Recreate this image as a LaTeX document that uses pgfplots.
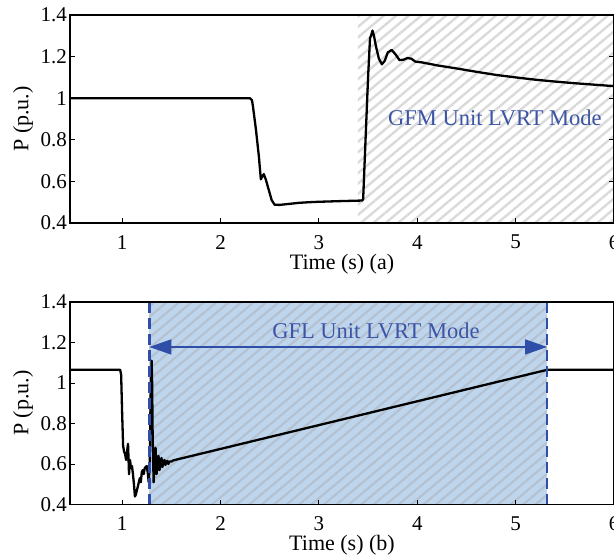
\documentclass[border=0pt]{standalone}
\usepackage{fontspec}
\setmainfont{Liberation Serif}
\usepackage{pgfplots}
\pgfplotsset{compat=1.18}
\usetikzlibrary{patterns.meta,arrows.meta}

\definecolor{lvrtblue}{RGB}{47,78,168}
\definecolor{lvrttext}{RGB}{60,84,165}
\definecolor{lvrtfill}{RGB}{190,214,237}
\definecolor{hatchgray}{RGB}{218,218,218}
\definecolor{hatchblue}{RGB}{182,193,207}

\pgfplotsset{
  panel/.style={
    scale only axis, width=544bp,
    xmin=0.47, xmax=6, ymin=0.4, ymax=1.4,
    xtick={1,2,3,4,5,6},
    ytick={0.4,0.6,0.8,1,1.2,1.4},
    /pgf/number format/assume math mode=true,
    tick label style={font=\fontsize{21bp}{24bp}\selectfont},
    axis line style={line width=1.6bp},
    tick style={line width=1bp, black},
    major tick length=5bp,
    tick align=inside,
    xtick pos=left,
    xticklabel style={anchor=north, inner sep=0pt, yshift=-12bp},
    yticklabel style={anchor=east, inner sep=0pt, xshift=-3bp},
    every axis x label/.style={at={(axis description cs:0.5,0)}, anchor=center,
      yshift=-41bp, font=\fontsize{22bp}{26bp}\selectfont},
    every axis y label/.style={at={(axis description cs:-0.0864,0.5)}, anchor=center,
      rotate=90, font=\fontsize{22bp}{26bp}\selectfont},
    axis on top,
  },
  curve/.style={black, line width=2.3bp, line join=round, no marks},
}

\begin{document}
\begin{tikzpicture}

% (a) grid-forming unit
\begin{axis}[panel, name=top, at={(0,0)}, anchor=north west, height=208bp,
  xlabel={Time (s) (a)}, ylabel={P (p.u.)}]
  % LVRT interval of the GFM unit
  \addplot[draw=none, pattern={Lines[angle=40,distance=8bp,line width=2.4bp]}, pattern color=hatchgray]
    coordinates {(3.397,0.4) (3.397,1.4) (6.1,1.4) (6.1,0.4)} -- cycle;
  \addplot[curve] coordinates {
    (0.47,1.0) (2.30,1.0) (2.32,0.99) (2.33,0.96) (2.36,0.85) (2.39,0.72)
    (2.41,0.61) (2.42,0.62) (2.44,0.635) (2.46,0.61) (2.49,0.56) (2.52,0.51)
    (2.55,0.488) (2.60,0.487) (2.70,0.492) (2.80,0.497) (2.90,0.500) (3.00,0.502)
    (3.20,0.505) (3.44,0.508) (3.45,0.515) (3.47,0.75) (3.50,1.10) (3.52,1.29)
    (3.53,1.30) (3.545,1.325) (3.56,1.30) (3.58,1.25) (3.61,1.19) (3.64,1.163)
    (3.67,1.18) (3.70,1.22) (3.74,1.232) (3.78,1.21) (3.82,1.183) (3.86,1.185)
    (3.90,1.193) (3.94,1.19) (3.98,1.176) (4.05,1.172) (4.20,1.158) (4.40,1.143)
    (4.60,1.127) (4.80,1.112) (5.00,1.100) (5.20,1.089) (5.40,1.080) (5.60,1.072)
    (5.80,1.065) (6.00,1.058)
  };
  \node[text=lvrttext, font=\fontsize{22.5bp}{26bp}\selectfont, inner sep=0pt]
    at (axis cs:4.79,0.905) {GFM Unit LVRT Mode};
\end{axis}

% (b) grid-following unit
\begin{axis}[panel, name=bot, at={(0,-287bp)}, anchor=north west, height=202.5bp,
  ytick pos=left, xlabel={Time (s) (b)}, ylabel={P (p.u.)}]
  % LVRT interval of the GFL unit
  \addplot[draw=none, fill=lvrtfill]
    coordinates {(1.276,0.4) (1.276,1.4) (5.32,1.4) (5.32,0.4)} -- cycle;
  \addplot[draw=none, pattern={Lines[angle=40,distance=8bp,line width=2.2bp]}, pattern color=hatchblue]
    coordinates {(1.276,0.4) (1.276,1.4) (5.32,1.4) (5.32,0.4)} -- cycle;
  \addplot[curve] coordinates {
    (0.47,1.065) (0.98,1.065) (0.99,1.04) (1.00,0.85) (1.01,0.69) (1.02,0.66)
    (1.03,0.65) (1.04,0.62) (1.05,0.66) (1.06,0.70) (1.07,0.55) (1.08,0.62)
    (1.09,0.58) (1.10,0.59) (1.11,0.55) (1.12,0.50) (1.13,0.44) (1.14,0.45)
    (1.16,0.49) (1.18,0.53) (1.19,0.51) (1.20,0.56) (1.21,0.57) (1.22,0.55)
    (1.23,0.58) (1.25,0.59) (1.26,0.56) (1.27,0.51) (1.28,0.60) (1.29,0.95)
    (1.30,1.11) (1.305,1.00) (1.31,0.75) (1.32,0.51) (1.33,0.60) (1.34,0.68)
    (1.35,0.55) (1.36,0.60) (1.37,0.64) (1.38,0.57) (1.39,0.60) (1.40,0.63)
    (1.41,0.585) (1.42,0.61) (1.43,0.62) (1.44,0.595) (1.45,0.61) (1.46,0.615)
    (1.47,0.60) (1.48,0.612) (1.50,0.612) (1.52,0.618) (5.32,1.065) (6.00,1.065)
  };
  % interval boundaries and span arrow
  \addplot[lvrtblue, line width=2.5bp, dash pattern=on 11bp off 5bp]
    coordinates {(1.276,0.4) (1.276,1.4)};
  \addplot[lvrtblue, line width=2.5bp, dash pattern=on 11bp off 5bp]
    coordinates {(5.32,0.4) (5.32,1.4)};
  \addplot[lvrtblue, line width=1.5bp,
    {Triangle[length=22bp,width=15bp]}-{Triangle[length=22bp,width=15bp]}]
    coordinates {(1.276,1.178) (5.32,1.178)};
  \node[text=lvrttext, font=\fontsize{22.5bp}{26bp}\selectfont, inner sep=0pt]
    at (axis cs:3.58,1.259) {GFL Unit LVRT Mode};
\end{axis}

\pgfresetboundingbox
\path[use as bounding box] (-70bp,15bp) rectangle (544bp,-542bp);
\end{tikzpicture}
\end{document}
